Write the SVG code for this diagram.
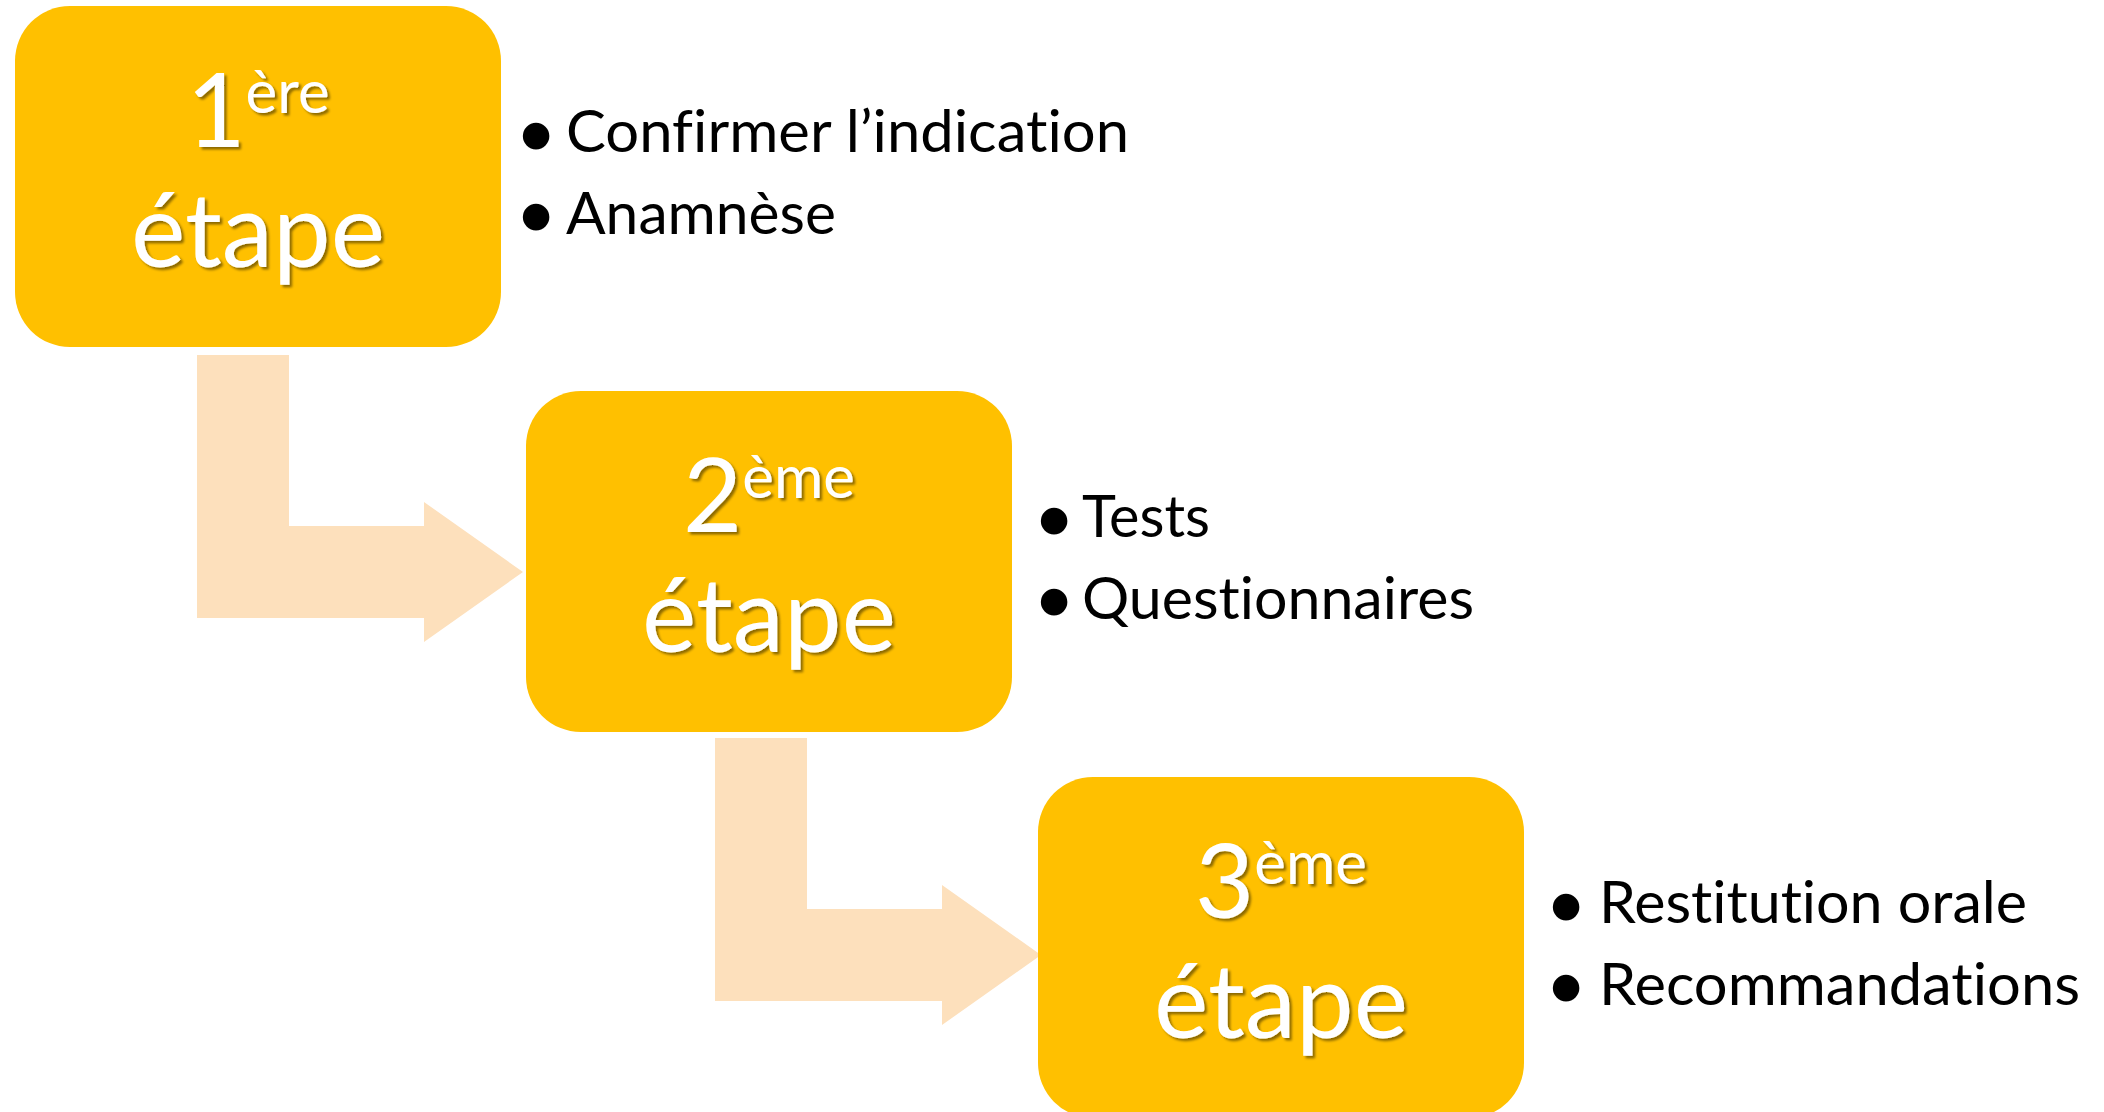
<svg xmlns="http://www.w3.org/2000/svg" width="2104" height="1112" viewBox="0 0 2104 1112">
  <defs>
    <filter id="txtShadow" x="-10%" y="-10%" width="130%" height="130%">
      <feDropShadow dx="2.5" dy="2.5" stdDeviation="1.2" flood-color="#000" flood-opacity="0.45"/>
    </filter>
    <style>
      .box { fill: #FFC000; }
      .bent { fill: #FDE0BC; }
      text { font-variant-ligatures: none; font-feature-settings: "liga" 0, "clig" 0; }
      .stage { font-family: Lato, "Open Sans", sans-serif; fill: #FFFFFF; text-anchor: middle; filter: url(#txtShadow); }
      .big { font-size: 102px; }
      .sup { font-size: 60px; }
      .item { font-family: Lato, "Open Sans", sans-serif; font-size: 58px; fill: #000000; }
      .dot { font-family: "Liberation Sans", Arial, sans-serif; font-size: 72px; fill: #000000; stroke: #000000; stroke-width: 7; stroke-linejoin: round; text-anchor: middle; }
    </style>
  </defs>

  <rect width="2104" height="1112" fill="#FFFFFF"/>

  <!-- bent arrows between stages -->
  <g id="connectors">
    <path class="bent" d="M197,355 H289 V526 H424 V502 L523,572 L424,642 V618 H197 Z"/>
    <path class="bent" d="M715,738 H807 V909 H942 V885 L1041,955 L942,1025 V1001 H715 Z"/>
  </g>

  <!-- stage 1 -->
  <g id="stage1">
    <rect class="box" x="15" y="6" width="486" height="341" rx="55" ry="55"/>
    <text class="stage big" x="258" y="147">1<tspan class="sup" dy="-34">ère</tspan></text>
    <text class="stage big" x="258" y="267" textLength="254" lengthAdjust="spacingAndGlyphs">étape</text>
    <text class="dot" x="536" y="159.5">•</text>
    <text class="item" x="566" y="152" textLength="563" lengthAdjust="spacingAndGlyphs">Confirmer l’indication</text>
    <text class="dot" x="536" y="240.5">•</text>
    <text class="item" x="566" y="234" textLength="270" lengthAdjust="spacingAndGlyphs">Anamnèse</text>
  </g>

  <!-- stage 2 -->
  <g id="stage2">
    <rect class="box" x="526" y="391" width="486" height="341" rx="55" ry="55"/>
    <text class="stage big" x="769" y="532">2<tspan class="sup" dy="-34">ème</tspan></text>
    <text class="stage big" x="769" y="652" textLength="254" lengthAdjust="spacingAndGlyphs">étape</text>
    <text class="dot" x="1054" y="544.5">•</text>
    <text class="item" x="1082" y="537" textLength="128" lengthAdjust="spacingAndGlyphs">Tests</text>
    <text class="dot" x="1054" y="625.5">•</text>
    <text class="item" x="1082" y="619" textLength="392" lengthAdjust="spacingAndGlyphs">Questionnaires</text>
  </g>

  <!-- stage 3 -->
  <g id="stage3">
    <rect class="box" x="1038" y="777" width="486" height="341" rx="55" ry="55"/>
    <text class="stage big" x="1281" y="918">3<tspan class="sup" dy="-34">ème</tspan></text>
    <text class="stage big" x="1281" y="1038" textLength="254" lengthAdjust="spacingAndGlyphs">étape</text>
    <text class="dot" x="1566" y="930.5">•</text>
    <text class="item" x="1599" y="923" textLength="428" lengthAdjust="spacingAndGlyphs">Restitution orale</text>
    <text class="dot" x="1566" y="1011.5">•</text>
    <text class="item" x="1599" y="1005" textLength="481" lengthAdjust="spacingAndGlyphs">Recommandations</text>
  </g>
</svg>
